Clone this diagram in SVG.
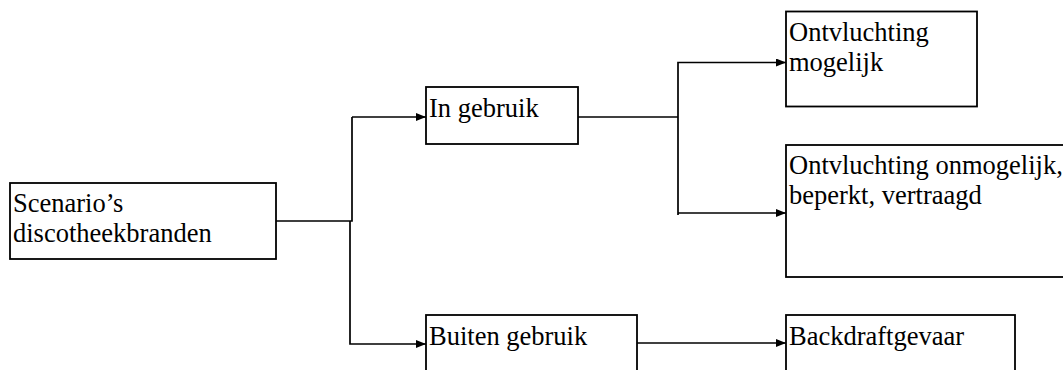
<svg xmlns="http://www.w3.org/2000/svg" width="1063" height="370" viewBox="0 0 1063 370">
  <style>
    .box { fill: #ffffff; stroke: #000000; stroke-width: 1.8; }
    .wire { fill: none; stroke: #000000; stroke-width: 1.7; }
    .lbl { font-family: "Liberation Serif", "Times New Roman", serif; font-size: 26.5px; fill: #000000; }
  </style>
  <defs>
    <marker id="arrow" markerUnits="userSpaceOnUse" markerWidth="10" markerHeight="8" refX="10" refY="4" orient="auto">
      <path d="M0,0 L10,4 L0,8 z" fill="#000000"/>
    </marker>
  </defs>
  <rect width="1063" height="370" fill="#ffffff"/>

  <!-- connectors -->
  <g id="connectors">
    <path class="wire" d="M276,221 L352,221 L352,117"/>
    <path class="wire" d="M352,117 L426,117" marker-end="url(#arrow)"/>
    <path class="wire" d="M350,221 L350,344 L426,344" marker-end="url(#arrow)"/>
    <path class="wire" d="M578,117 L678,117"/>
    <path class="wire" d="M678,215 L678,62.5 L786,62.5" marker-end="url(#arrow)"/>
    <path class="wire" d="M678,213 L786,213" marker-end="url(#arrow)"/>
    <path class="wire" d="M637,343 L786,343" marker-end="url(#arrow)"/>
  </g>

  <g id="scenarios">
    <rect class="box" x="10" y="183" width="266" height="76"/>
    <text class="lbl" x="13" y="212">Scenario’s</text>
    <text class="lbl" x="13" y="242">discotheekbranden</text>
  </g>

  <g id="in-gebruik">
    <rect class="box" x="426" y="87" width="152" height="57"/>
    <text class="lbl" x="429" y="117">In gebruik</text>
  </g>

  <g id="buiten-gebruik">
    <rect class="box" x="426" y="315" width="211" height="70"/>
    <text class="lbl" x="429" y="345">Buiten gebruik</text>
  </g>

  <g id="ontvluchting-mogelijk">
    <rect class="box" x="786" y="11.5" width="191" height="95"/>
    <text class="lbl" x="789" y="41">Ontvluchting</text>
    <text class="lbl" x="789" y="71">mogelijk</text>
  </g>

  <g id="ontvluchting-onmogelijk">
    <rect class="box" x="786" y="145" width="290" height="132"/>
    <text class="lbl" x="789" y="174">Ontvluchting onmogelijk,</text>
    <text class="lbl" x="789" y="204">beperkt, vertraagd</text>
  </g>

  <g id="backdraftgevaar">
    <rect class="box" x="786" y="315" width="229" height="70"/>
    <text class="lbl" x="789" y="345">Backdraftgevaar</text>
  </g>
</svg>
